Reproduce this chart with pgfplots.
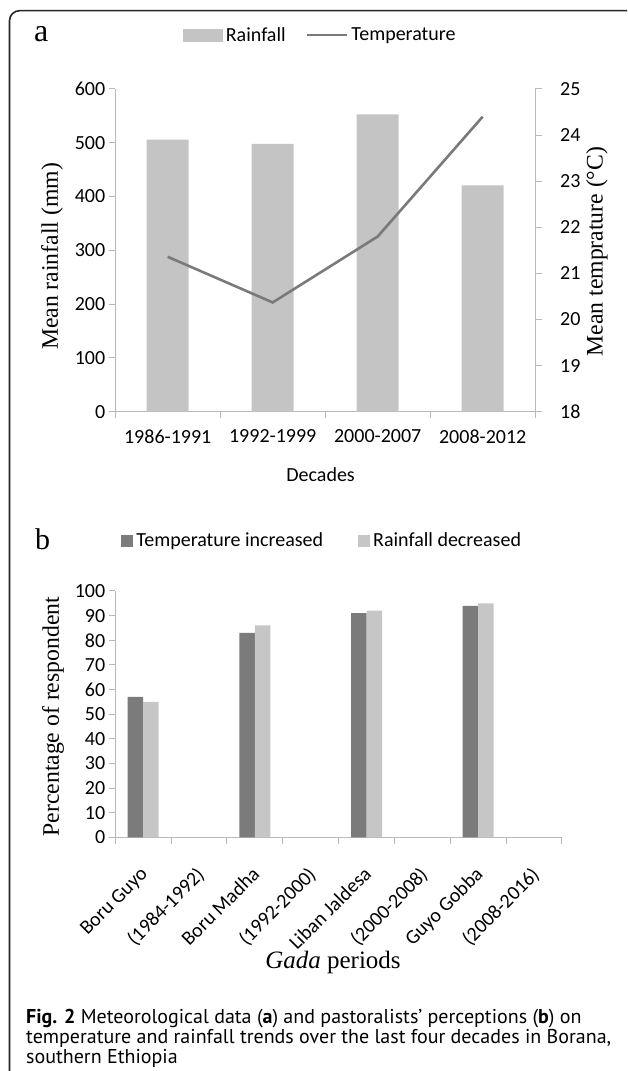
\documentclass[border=0pt]{standalone}
\usepackage{fontspec}
\setmainfont{Carlito}
\newfontfamily\tnr{Liberation Serif}
\newfontfamily\capfont{PT Sans}
\usepackage{pgfplots}
\pgfplotsset{compat=1.18}
\definecolor{barA}{RGB}{196,196,196}
\definecolor{lineA}{RGB}{122,122,122}
\definecolor{darkB}{RGB}{123,123,123}
\definecolor{lightB}{RGB}{198,198,198}
\definecolor{axgray}{RGB}{185,185,185}
\newcommand{\tickfont}{\fontsize{20}{20}\selectfont}
\newcommand{\labfont}{\fontsize{23.7}{26}\selectfont\tnr}
\pgfplotsset{
  common/.style={
    scale only axis,
    /pgf/number format/assume math mode=true,
    tick label style={font=\tickfont, text=black},
    axis line style={axgray, line width=1pt},
    tick style={axgray, line width=1pt},
    major tick length=6.5pt,
    tick align=outside,
    clip=false,
  }
}
\begin{document}
\begin{tikzpicture}[x=1pt,y=1pt]
\path[use as bounding box] (0pt,0pt) rectangle (627pt,1071pt);
\clip (0pt,0pt) rectangle (627pt,1071pt);
\draw[black!85, line width=1.6pt, rounded corners=10pt] (9.5pt,-30pt) rectangle (637pt,1060.3pt);
\node[font=\fontsize{32}{32}\selectfont\tnr, anchor=base west, inner sep=0pt] at (34pt,1029.3pt) {a};
\node[font=\fontsize{30}{30}\selectfont\tnr, anchor=base west, inner sep=0pt] at (35pt,521pt) {b};

% ---------- panel a : rainfall bars ----------
\begin{axis}[common,
  at={(115.2pt,659.3pt)}, anchor=south west,
  width=420pt, height=322.7pt,
  xmin=0.5, xmax=4.5, ymin=0, ymax=600,
  axis x line*=bottom, axis y line*=left,
  xtick={0.5,1.5,2.5,3.5,4.5},
  x tick label as interval,
  xticklabels={1986-1991,1992-1999,2000-2007,2008-2012},
  xticklabel style={anchor=north, yshift=-8pt},
  ytick={0,100,200,300,400,500,600},
  ybar, bar width=42pt,
  ylabel={Mean rainfall (mm)},
  ylabel style={font=\labfont, at={(axis description cs:-0.1505,0.481)}, anchor=center},
  xlabel={Decades},
  xlabel style={font=\tickfont, at={(axis description cs:0.489,-0.196)}, anchor=center},
]
\addplot[fill=barA, draw=none] coordinates {(1,506) (2,498) (3,553) (4,421)};
\end{axis}

% ---------- panel a : temperature line ----------
\begin{axis}[common,
  at={(115.2pt,659.3pt)}, anchor=south west,
  width=420pt, height=322.7pt,
  xmin=0.5, xmax=4.5, ymin=18, ymax=25,
  axis x line=none, axis y line*=right,
  ytick={18,19,20,21,22,23,24,25},
  yticklabel style={xshift=15pt},
  ylabel={Mean temprature (°C)},
  ylabel style={font=\labfont, at={(axis description cs:1.147,0.496)}, anchor=center, rotate=0},
  legend columns=2,
  legend style={at={(axis description cs:0.162,1.1673)}, anchor=west, draw=none, fill=none,
    font=\tickfont, inner sep=0pt, nodes={inner sep=3pt},
    /tikz/every even column/.append style={column sep=17pt}},
  legend cell align=left,
]
\addlegendimage{legend image code/.code={\fill[barA] (0pt,-6pt) rectangle (39pt,6pt);}}
\addlegendentry{Rainfall}
\addplot[lineA, line width=2.6pt, legend image code/.code={\draw[lineA, line width=2.6pt] (0pt,0pt) -- (40pt,0pt);}]
  coordinates {(1,21.36) (2,20.37) (3,21.80) (4,24.40)};
\addlegendentry{Temperature}
\end{axis}

% ---------- panel b ----------
\begin{axis}[common,
  at={(115.2pt,233.7pt)}, anchor=south west,
  width=446.8pt, height=246.3pt,
  xmin=0.5, xmax=8.5, ymin=0, ymax=100,
  axis x line*=bottom, axis y line*=left,
  xtick={0.5,1.5,2.5,3.5,4.5,5.5,6.5,7.5,8.5},
  x tick label as interval,
  xticklabels={Boru Guyo,(1984-1992),Boru Madha,(1992-2000),Liban Jaldesa,(2000-2008),Guyo Gobba,(2008-2016)},
  xticklabel style={xshift=-4pt, yshift=-17pt, rotate=45, anchor=north east},
  ytick={0,10,20,30,40,50,60,70,80,90,100},
  ybar=0pt, bar width=15.5pt,
  ylabel={Percentage of respondent},
  ylabel style={font=\labfont, at={(axis description cs:-0.139,0.4896)}, anchor=center},
  xlabel={\textit{Gada} periods},
  xlabel style={font=\fontsize{25}{27}\selectfont\tnr, at={(axis description cs:0.4875,-0.510)}, anchor=center},
  legend columns=2,
  legend style={at={(axis description cs:0.0134,1.204)}, anchor=west, draw=none, fill=none,
    font=\tickfont, inner sep=0pt, nodes={inner sep=3pt},
    /tikz/every even column/.append style={column sep=32pt}},
  legend cell align=left,
]
\addplot[fill=darkB, draw=none, legend image code/.code={\fill[darkB] (0pt,-6pt) rectangle (12pt,6pt);}]
  coordinates {(1,57) (3,83) (5,91) (7,94)};
\addlegendentry{Temperature increased}
\addplot[fill=lightB, draw=none, legend image code/.code={\fill[lightB] (0pt,-6pt) rectangle (12pt,6pt);}]
  coordinates {(1,55) (3,86) (5,92) (7,95)};
\addlegendentry{Rainfall decreased}
\end{axis}

% ---------- caption ----------
\node[anchor=base west, inner sep=0pt, font=\capfont\fontsize{20}{20}\selectfont] at (26pt,47.7pt)
  {\textbf{Fig. 2} Meteorological data (\textbf{a}) and pastoralists’ perceptions (\textbf{b}) on};
\node[anchor=base west, inner sep=0pt, font=\capfont\fontsize{20}{20}\selectfont] at (26pt,27.7pt)
  {temperature and rainfall trends over the last four decades in Borana,};
\node[anchor=base west, inner sep=0pt, font=\capfont\fontsize{20}{20}\selectfont] at (26pt,7.7pt)
  {southern Ethiopia};
\end{tikzpicture}
\end{document}
